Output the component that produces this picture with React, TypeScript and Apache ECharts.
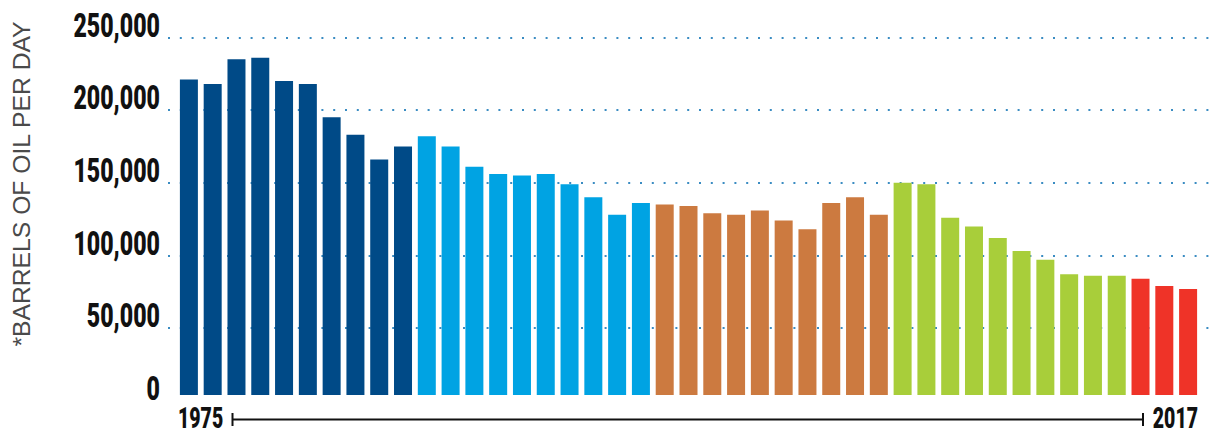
import React, { useEffect, useRef } from "react";
import * as echarts from "echarts";

const years: string[] = [];
for (let y = 1975; y <= 2017; y++) years.push(String(y));

const barrels = [
  217000, 214000, 231000, 232000, 216000, 214000, 191000, 179000, 162000, 171000,
  178000, 171000, 157000, 152000, 151000, 152000, 145000, 136000, 124000, 132000,
  131000, 130000, 125000, 124000, 127000, 120000, 114000, 132000, 136000, 124000,
  146000, 145000, 122000, 116000, 108000, 99000, 93000, 83000, 82000, 82000,
  80000, 75000, 73000,
];

const groupColors = ["#004a87", "#00a3e3", "#cc7a40", "#a8ce3a", "#ef3328"];
const groupSizes = [10, 10, 10, 10, 3];

const yTicks = [0, 50000, 100000, 150000, 200000, 250000];
const yearLabels = [years[0], years[years.length - 1]];

const NUM_FONT = "Roboto, 'DejaVu Sans', sans-serif";

function colorForIndex(i: number): string {
  let acc = 0;
  for (let g = 0; g < groupSizes.length; g++) {
    acc += groupSizes[g];
    if (i < acc) return groupColors[g];
  }
  return groupColors[groupColors.length - 1];
}

export default function App() {
  const ref = useRef<HTMLDivElement>(null);
  useEffect(() => {
    if (!ref.current) return;
    const chart = echarts.init(ref.current, null, { renderer: "svg" });
    const BAR_W = 18;
    chart.setOption({
      animation: false,
      backgroundColor: "#ffffff",
      grid: [
        { left: 168, right: 9, top: 37.3, bottom: 34.3 },
        { left: 177, right: 27, top: 31.6, bottom: 40 },
      ],
      xAxis: [
        { type: "category", gridIndex: 0, data: years, show: false },
        { type: "category", gridIndex: 1, data: years, show: false, boundaryGap: true },
      ],
      yAxis: [
        {
          type: "value",
          gridIndex: 0,
          min: yTicks[0],
          max: yTicks[yTicks.length - 1],
          interval: yTicks[1] - yTicks[0],
          axisLine: { show: false },
          axisTick: { show: false },
          axisLabel: { show: false },
          splitLine: {
            show: true,
            showMinLine: false,
            lineStyle: { color: "#3a8cc2", width: 2, type: [2, 9.8] },
          },
        },
        {
          type: "value",
          gridIndex: 1,
          min: 0,
          max: 250000,
          show: false,
          splitLine: { show: false },
        },
      ],
      series: [
        {
          type: "bar",
          xAxisIndex: 1,
          yAxisIndex: 1,
          data: barrels,
          barWidth: BAR_W,
          itemStyle: {
            color: (p: any) => colorForIndex(p.dataIndex),
          },
        },
      ],
    });

    // Tick labels placed through the axes' own scales, drawn condensed
    const labelRight = 160;
    const tickTexts = yTicks.map((v) => {
      const py = chart.convertToPixel({ yAxisIndex: 0 }, v) as number;
      return {
        type: "text",
        x: labelRight,
        y: py - 11.8,
        scaleX: 0.7,
        z: 10,
        style: {
          text: v.toLocaleString("en-US"),
          fill: "#111111",
          fontFamily: NUM_FONT,
          fontWeight: 900,
          fontSize: 33,
          align: "right",
          verticalAlign: "middle",
        },
      };
    });

    const x0 = chart.convertToPixel({ xAxisIndex: 1 }, years[0]) as number;
    const x1 = chart.convertToPixel({ xAxisIndex: 1 }, years[1]) as number;
    const xN = chart.convertToPixel({ xAxisIndex: 1 }, years[years.length - 1]) as number;
    const halfBand = (x1 - x0) / 2;
    const yearY = 418;
    const yearTexts = yearLabels.map((t, i) => ({
      type: "text",
      x: i === 0 ? x0 - halfBand + 1 : xN + halfBand - 2,
      y: yearY,
      scaleX: 0.65,
      z: 10,
      style: {
        text: t,
        fill: "#111111",
        fontFamily: NUM_FONT,
        fontWeight: 900,
        fontSize: 30,
        align: i === 0 ? "left" : "right",
        verticalAlign: "middle",
      },
    }));

    const lineL = 232;
    const lineR = 1143;
    chart.setOption({
      graphic: [
        ...tickTexts,
        ...yearTexts,
        {
          type: "text",
          x: 21,
          y: 184,
          rotation: Math.PI / 2,
          style: {
            text: "*BARRELS OF OIL PER DAY",
            fill: "#4a4a4a",
            fontFamily: "'Liberation Sans', Arial, sans-serif",
            fontWeight: "normal",
            fontSize: 24.7,
            align: "center",
            verticalAlign: "middle",
          },
        },
        {
          type: "line",
          shape: { x1: lineL, y1: 419.5, x2: lineR, y2: 419.5 },
          style: { stroke: "#111111", lineWidth: 2 },
        },
        {
          type: "line",
          shape: { x1: lineL + 0.5, y1: 413, x2: lineL + 0.5, y2: 426 },
          style: { stroke: "#111111", lineWidth: 2 },
        },
        {
          type: "line",
          shape: { x1: lineR, y1: 413, x2: lineR, y2: 426 },
          style: { stroke: "#111111", lineWidth: 2 },
        },
      ],
    });
    return () => chart.dispose();
  }, []);
  return <div ref={ref} style={{ width: 1227, height: 435, position: "absolute", left: 0, top: 0 }} />;
}
